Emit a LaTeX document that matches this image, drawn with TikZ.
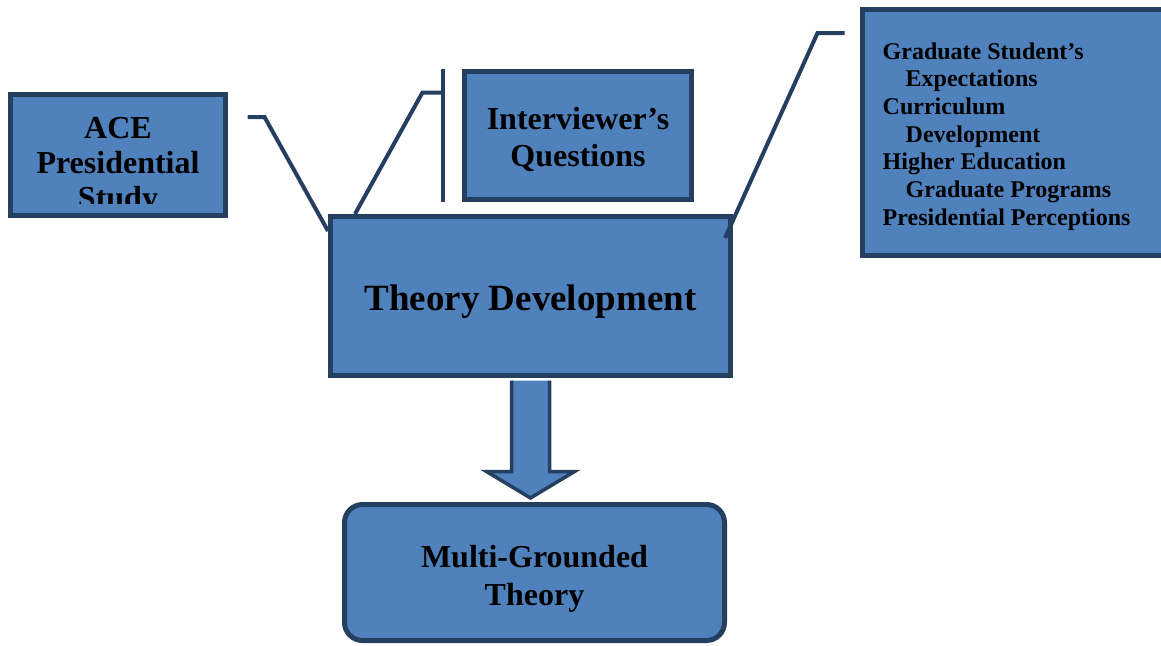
\documentclass[tikz,border=0pt]{standalone}
\usepackage{fontspec}
\setmainfont{Liberation Serif}
\usepackage{tikz}
\usetikzlibrary{calc}
\definecolor{boxblue}{HTML}{4F81BD}
\definecolor{boxedge}{HTML}{243F60}

\begin{document}
\begin{tikzpicture}[x=1pt, y=-1pt,
    box/.style={rectangle, draw=boxedge, fill=boxblue, line width=5pt, inner sep=0pt},
    lbl/.style={align=center, inner sep=0pt, font=\bfseries\fontsize{32}{#1}\selectfont},
    lbl/.default=36,
    callout/.style={draw=boxedge, line width=4pt},
    bigarrow/.style={draw=boxedge, fill=boxblue, line width=3.5pt}]
    \useasboundingbox (0,0) rectangle (1161,645);

    \node[box, minimum width=215, minimum height=121,
          path picture={\clip (path picture bounding box.north west) rectangle ([yshift=12pt]path picture bounding box.south east);
                        \node[lbl=35] (acetext) at ([yshift=-11pt]path picture bounding box.center) {ACE\\Presidential\\Study};}] (ace) at (118,155) {};

    \node[box, minimum width=227, minimum height=128] (quest) at (578,135.5) {};
    \node[lbl=37] (questtext) at ([yshift=-4pt]quest.center) {Interviewer’s\\Questions};

    \node[box, minimum width=400, minimum height=159] (theory) at (530.5,296) {};
    \node[lbl, font=\bfseries\fontsize{37}{44}\selectfont] (theorytext) at ([yshift=-5.5pt]theory.center) {Theory Development};

    \node[box, minimum width=307.5, minimum height=246] (list) at (1016.25,132.5) {};
    \node[lbl, align=left, anchor=west, font=\bfseries\fontsize{24}{27.7}\selectfont] (listtext) at ([xshift=22.5pt, yshift=-4pt]list.west)
        {Graduate Student’s\\\hspace*{23pt}Expectations\\Curriculum\\\hspace*{23pt}Development\\Higher Education\\\hspace*{23pt}Graduate Programs\\Presidential Perceptions};

    \node[box, rounded corners=18pt, minimum width=380, minimum height=136] (multi) at (534.5,572.5) {};
    \node[lbl=38] (multitext) at ([yshift=-6pt]multi.center) {Multi-Grounded\\Theory};

    % callout lines
    \coordinate (acetail) at ([xshift=19.5pt, yshift=38pt]ace.east);
    \coordinate (listtail) at ([xshift=-15.5pt, yshift=99.5pt]list.west);
    \draw[callout] (acetail) -- ++(17,0) -- ([yshift=-17pt]theory.north west);
    \draw[callout] ([xshift=27pt]theory.north west) -- ++(67.5,-121.5) -- ++(20,0);
    \draw[callout] ([xshift=-19.5pt]quest.north west) -- ([xshift=-19.5pt]quest.south west);
    \draw[callout] (listtail) -- ++(-27,0) -- ([xshift=-8pt, yshift=-24pt]theory.north east);

    % block arrow
    \draw[bigarrow] ($(theory.south)+(-19,2.5)$) -- ($(theory.south)+(-19,93.5)$) -- ($(theory.south)+(-44,93.5)$)
        -- ($(theory.south |- multi.north)+(0,-4)$) -- ($(theory.south)+(44,93.5)$) -- ($(theory.south)+(19,93.5)$) -- ($(theory.south)+(19,2.5)$);
\end{tikzpicture}
\end{document}
